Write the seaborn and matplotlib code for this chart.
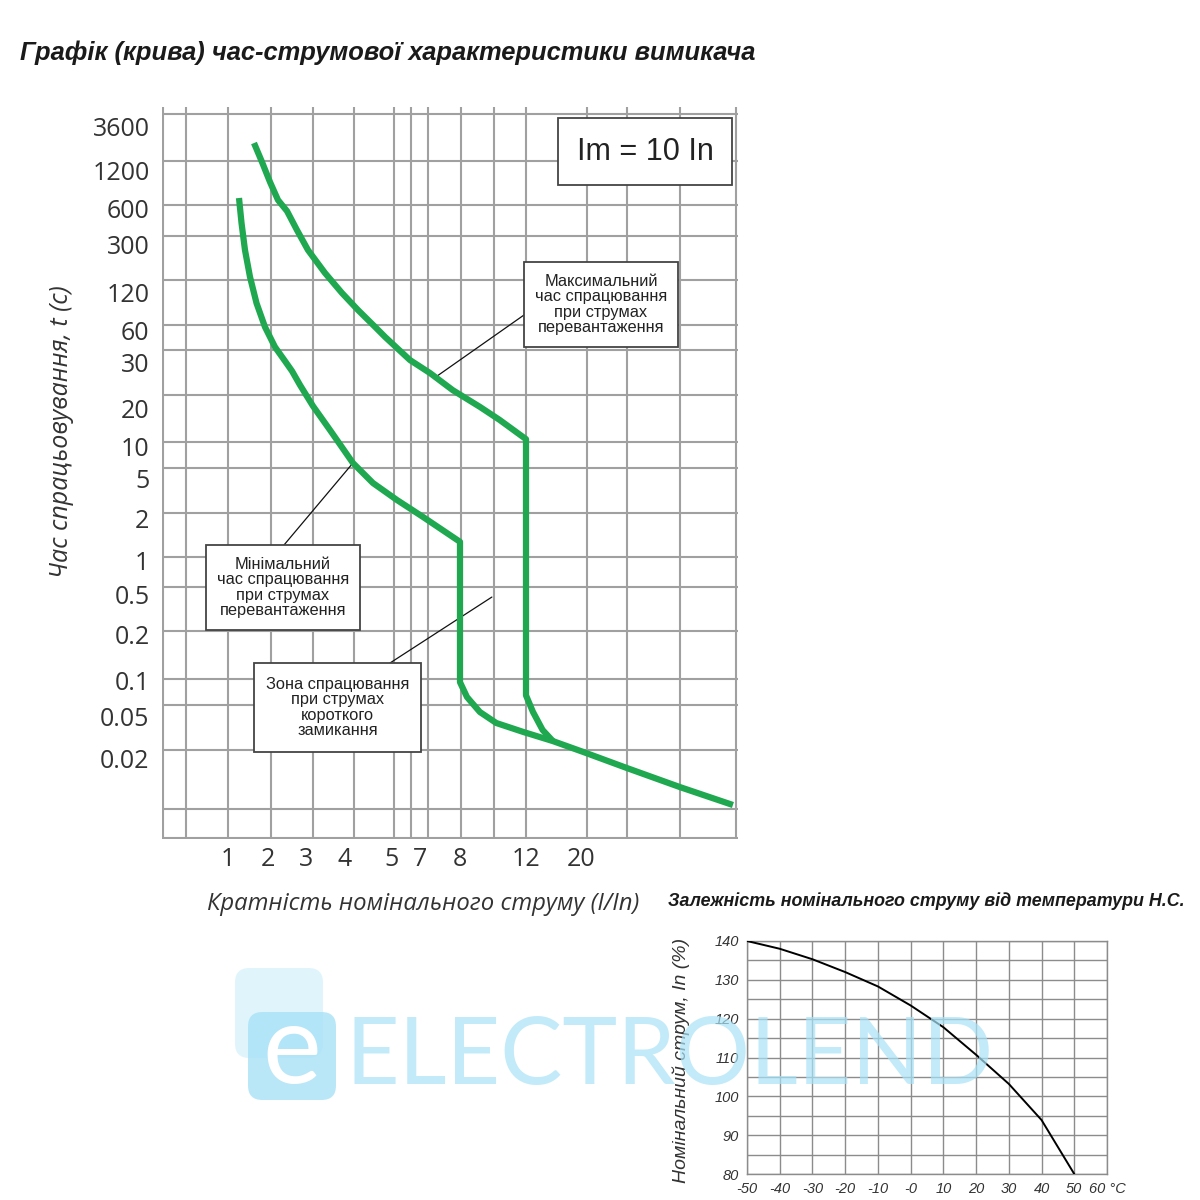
import matplotlib
matplotlib.use("Agg")
import matplotlib.pyplot as plt
import numpy as np
import pandas as pd
import seaborn as sns
from matplotlib.patches import Rectangle, FancyBboxPatch

# ---- data: trip curves (multiple of In, trip time in s)
MIN_MULT = [1.21, 1.264, 1.342, 1.464, 1.639, 1.898, 2.155, 2.398, 2.584, 2.813, 3.158,
            3.58, 4.157, 4.58, 5.36, 7.07, 8, 8, 8.35, 9.04, 10.0, 11.8, 15.4, 20.4,
            30.2, 48.7, 78.4]
MIN_TIME = [720, 453, 272, 161, 98, 63.4, 41.5, 30.6, 27.7, 24.5, 20.35,
            13.53, 6.99, 4.46, 3.02, 2.05, 1.35, 0.096, 0.0727, 0.0549, 0.0437, 0.0358,
            0.0292, 0.0229, 0.0172, 0.0129, 0.00985]
MAX_MULT = [1.569, 1.803, 2.043, 2.225, 2.449, 2.724, 3.044, 3.45, 3.912, 4.26, 4.63,
            4.859, 6.23, 7.24, 7.81, 9.04, 10.2, 12, 12, 12.8, 14.0, 15.4]
MAX_TIME = [2390, 1470, 964, 694, 567, 397, 272, 174, 117.8, 86.4, 63.4,
            51.6, 31.3, 27.2, 23.4, 20.2, 16.2, 11.5, 0.075, 0.055, 0.0374, 0.0292]

X_TICKS = [1, 2, 3, 4, 5, 7, 8, 12, 20]
Y_TICKS = [0.02, 0.05, 0.1, 0.2, 0.5, 1, 2, 5, 10, 20, 30, 60, 120, 300, 600, 1200, 3600]

# ---- data: nominal current vs ambient temperature
TEMP_C = [-50, -40, -30, -20, -10, 0, 10, 20, 30, 40, 50]
IN_PCT = [140, 138.0, 135.3, 132.0, 128.3, 123.4, 117.8, 110.7, 103.2, 93.9, 80]
TEMP_TICKS = [-50, -40, -30, -20, -10, 0, 10, 20, 30, 40, 50, 60]
TEMP_LABELS = ["-50", "-40", "-30", "-20", "-10", "-0", "10", "20", "30", "40", "50", "60 °C"]

# ---- layout of the hand-drawn scales (reference pixel positions)
X_SCALE_VALS = [0.3] + X_TICKS + [100]
X_SCALE_PX = [150, 228, 268, 306, 345, 391, 420, 460, 526, 581, 760]
Y_SCALE_VALS = [0.005] + Y_TICKS + [36000]
Y_SCALE_PX = [850, 758, 717, 680, 635, 595, 560, 518, 478, 447, 408, 362, 330, 292, 245, 208, 170, 127, 80]
GRID_X_PX = [163, 186, 228, 271, 313, 354, 394, 411, 428, 461, 494, 526, 587, 627, 680, 736]
GRID_Y_PX = [114, 161, 205, 236, 280, 325, 350, 395, 442, 468, 513, 557, 587, 631, 679, 705, 750, 809, 838]

GREEN = "#1fa84f"
GRID = "#a0a0a0"
TXT = "#333333"
W = H = 1200.0

sns.set_style("white")
plt.rcParams["font.family"] = ["Open Sans", "DejaVu Sans"]

x_logv = np.log10(X_SCALE_VALS)
x_px = np.array(X_SCALE_PX, dtype=float)
y_logv = np.log10(Y_SCALE_VALS)
y_px = np.array(Y_SCALE_PX, dtype=float)


def x_fwd(v):
    v = np.clip(np.asarray(v, dtype=float), 1e-9, None)
    return np.interp(np.log10(v), x_logv, x_px)


def x_inv(p):
    return 10 ** np.interp(p, x_px, x_logv)


def y_fwd(v):
    v = np.clip(np.asarray(v, dtype=float), 1e-9, None)
    return -np.interp(np.log10(v), y_logv, y_px)


def y_inv(u):
    return 10 ** np.interp(-np.asarray(u, dtype=float), y_px[::-1], y_logv[::-1])


def fx(px):
    return px / W


def fy(py):
    return 1 - py / H


fig = plt.figure(figsize=(12, 12), dpi=100)

# ---- main chart
ax = fig.add_axes([fx(162), fy(839), (738 - 162) / W, (839 - 107) / H])
ax.set_xscale("function", functions=(x_fwd, x_inv))
ax.set_yscale("function", functions=(y_fwd, y_inv))
ax.set_xlim(x_inv(162), x_inv(738))
ax.set_ylim(y_inv(-839), y_inv(-107))

min_df = pd.DataFrame({"mult": MIN_MULT, "time": MIN_TIME})
max_df = pd.DataFrame({"mult": MAX_MULT, "time": MAX_TIME})
for df in (min_df, max_df):
    sns.lineplot(data=df, x="mult", y="time", sort=False, estimator=None,
                 color=GREEN, linewidth=4.5, ax=ax, legend=False,
                 solid_joinstyle="round", solid_capstyle="butt", zorder=4)

ax.set_xticks(X_TICKS, labels=[f"{v:g}" for v in X_TICKS])
ax.set_yticks(Y_TICKS, labels=[f"{v:g}" for v in Y_TICKS])
ax.set_xticks([x_inv(p) for p in GRID_X_PX], minor=True)
ax.set_yticks([y_inv(-p) for p in GRID_Y_PX], minor=True)
ax.xaxis.remove_overlapping_locs = False
ax.yaxis.remove_overlapping_locs = False
ax.grid(False)
ax.grid(which="minor", color=GRID, linewidth=1.5)
ax.tick_params(which="both", length=0)
ax.tick_params(axis="y", which="major", pad=9, labelsize=18, labelcolor=TXT)
ax.tick_params(axis="x", which="major", pad=6, labelsize=18, labelcolor=TXT)
for s in ax.spines.values():
    s.set_visible(False)
ax.set_xlabel("")
ax.set_ylabel("")
ax.patch.set_alpha(0)

fig.text(fx(20), fy(53), "Графік (крива) час-струмової характеристики вимикача",
         family="Liberation Sans", fontsize=18.4, fontweight="bold", fontstyle="italic",
         ha="left", va="center", color="#1a1a1a")
fig.text(fx(423), fy(904), "Кратність номінального струму (I/In)", fontsize=17.2,
         fontstyle="italic", ha="center", va="center", color=TXT)
fig.text(fx(62), fy(432), "Час спрацьовування, t (с)", fontsize=18, rotation=90,
         fontstyle="italic", ha="center", va="center", color=TXT)

BOX_FONT = "Liberation Sans"


def box(x0, y0, x1, y1, text, size, family):
    fig.add_artist(Rectangle((fx(x0), fy(y1)), (x1 - x0) / W, (y1 - y0) / H,
                             transform=fig.transFigure, facecolor="white",
                             edgecolor="#444444", linewidth=1.3, zorder=5))
    fig.text(fx((x0 + x1) / 2), fy((y0 + y1) / 2), text, family=family, fontsize=size,
             ha="center", va="center", linespacing=1.05, color="#222222", zorder=6)


box(558, 118, 732, 185, "Im = 10 In", 22, "Liberation Sans")
box(524, 262, 678, 347, "Максимальний\nчас спрацювання\nпри струмах\nперевантаження", 11.8, BOX_FONT)
box(206, 545, 360, 630, "Мінімальний\nчас спрацювання\nпри струмах\nперевантаження", 11.8, BOX_FONT)
box(254, 663, 421, 752, "Зона спрацювання\nпри струмах\nкороткого\nзамикання", 11.8, BOX_FONT)

leaders = [((7.41, 26.5), (524, 315)), ((4.157, 6.99), (284, 545)), ((9.73, 0.477), (390, 663))]
for xy, end in leaders:
    ax.annotate("", xy=xy, xytext=(fx(end[0]), fy(end[1])), textcoords="figure fraction",
                arrowprops=dict(arrowstyle="-", color="#111111", lw=0.9,
                                shrinkA=0, shrinkB=0), annotation_clip=False)

# ---- inset: nominal current vs temperature
ax2 = fig.add_axes([fx(747), fy(1174), (1107 - 747) / W, (1174 - 941) / H])
temp_df = pd.DataFrame({"t": TEMP_C, "pct": IN_PCT})
sns.lineplot(data=temp_df, x="t", y="pct", color="black", linewidth=1.4, ax=ax2,
             estimator=None, legend=False, zorder=4)
ax2.set_xlim(-50, 60)
ax2.set_ylim(80, 140)
ax2.set_xticks(TEMP_TICKS, labels=TEMP_LABELS)
ax2.set_yticks(range(80, 141, 10))
ax2.set_yticks(range(85, 140, 10), minor=True)
ax2.grid(which="both", color="#8c8c8c", linewidth=1.0)
ax2.tick_params(which="both", length=0)
ax2.tick_params(axis="both", which="major", labelsize=10.5, labelcolor=TXT, pad=6)
for lab in ax2.get_xticklabels() + ax2.get_yticklabels():
    lab.set_family("Liberation Sans")
    lab.set_fontstyle("italic")
for s in ax2.spines.values():
    s.set_color("#8c8c8c")
    s.set_linewidth(1.0)
ax2.set_xlabel("")
ax2.set_ylabel("")

fig.text(fx(668), fy(901), "Залежність номінального струму від температури Н.С.",
         family="Liberation Sans", fontsize=12.9, fontweight="bold", fontstyle="italic",
         ha="left", va="center", color="#1a1a1a")
fig.text(fx(681), fy(1060), "Номінальний струм, In (%)", family="Liberation Sans",
         fontsize=14, rotation=90, fontstyle="italic", ha="center", va="center", color=TXT)

# ---- watermark
fig.add_artist(FancyBboxPatch((fx(235), fy(1058)), 88 / W, 90 / H,
                              boxstyle="round,pad=0,rounding_size=0.012",
                              transform=fig.transFigure, facecolor="#d6f1fb",
                              edgecolor="none", alpha=0.75, zorder=7))
fig.add_artist(FancyBboxPatch((fx(248), fy(1100)), 88 / W, 88 / H,
                              boxstyle="round,pad=0,rounding_size=0.012",
                              transform=fig.transFigure, facecolor="#a8e2f7",
                              edgecolor="none", alpha=0.8, zorder=7))
fig.text(fx(292), fy(1052), "e", family="Lato", fontsize=80, color="white",
         ha="center", va="center", zorder=8)
fig.text(fx(345), fy(1058), "ELECTROLEND", family="Lato",
         fontsize=67, color="#a8e2f7", alpha=0.7, ha="left", va="center", zorder=8)

fig.savefig("out.png", dpi=100)
